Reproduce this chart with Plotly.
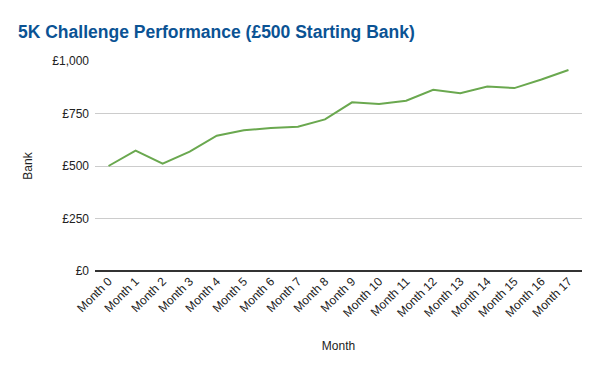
import plotly.graph_objects as go

months = [f"Month {i}" for i in range(18)]
bank = [500, 573, 511, 568, 644, 670, 681, 687, 722, 803, 795, 811, 863, 846, 879, 871, 912, 957]
y_ticks = [0, 250, 500, 750, 1000]
y_tick_labels = ["£0", "£250", "£500", "£750", "£1,000"]

fig = go.Figure()
fig.add_trace(go.Scatter(
    x=months, y=bank, mode="lines",
    line=dict(color="#6aa84f", width=2),
    showlegend=False,
))

fig.update_layout(
    width=600, height=371,
    margin=dict(l=95, r=18, t=61, b=100, autoexpand=False),
    paper_bgcolor="white", plot_bgcolor="white",
    font=dict(family="Arial, Liberation Sans, sans-serif", size=11, color="#222222"),
    title=dict(
        text="<b>5K Challenge Performance (£500 Starting Bank)</b>",
        x=18 / 600, xref="container", xanchor="left",
        y=1 - 32 / 371, yref="container", yanchor="middle",
        font=dict(size=17.5, color="#0b5394", family="Arial, Liberation Sans, sans-serif"),
    ),
    xaxis=dict(
        type="category", range=[-0.5, 17.5], automargin=False,
        tickangle=-45, showgrid=False, ticks="",
        showline=False, zeroline=False,
        title=dict(text="Month", standoff=22, font=dict(size=12)),
        tickfont=dict(size=12),
    ),
    yaxis=dict(
        range=[0, 1000], tickmode="array", tickvals=y_ticks, ticktext=y_tick_labels,
        automargin=False, ticklabelstandoff=5,
        showgrid=True, gridcolor="#cccccc", gridwidth=1,
        zeroline=True, zerolinecolor="#333333", zerolinewidth=1.5,
        ticks="", ticklen=0,
        title=dict(text="Bank", standoff=17, font=dict(size=12)),
        tickfont=dict(size=12),
    ),
)

fig.write_html("out.html", post_script="document.body.style.margin='0';",
               config={"displayModeBar": False})
